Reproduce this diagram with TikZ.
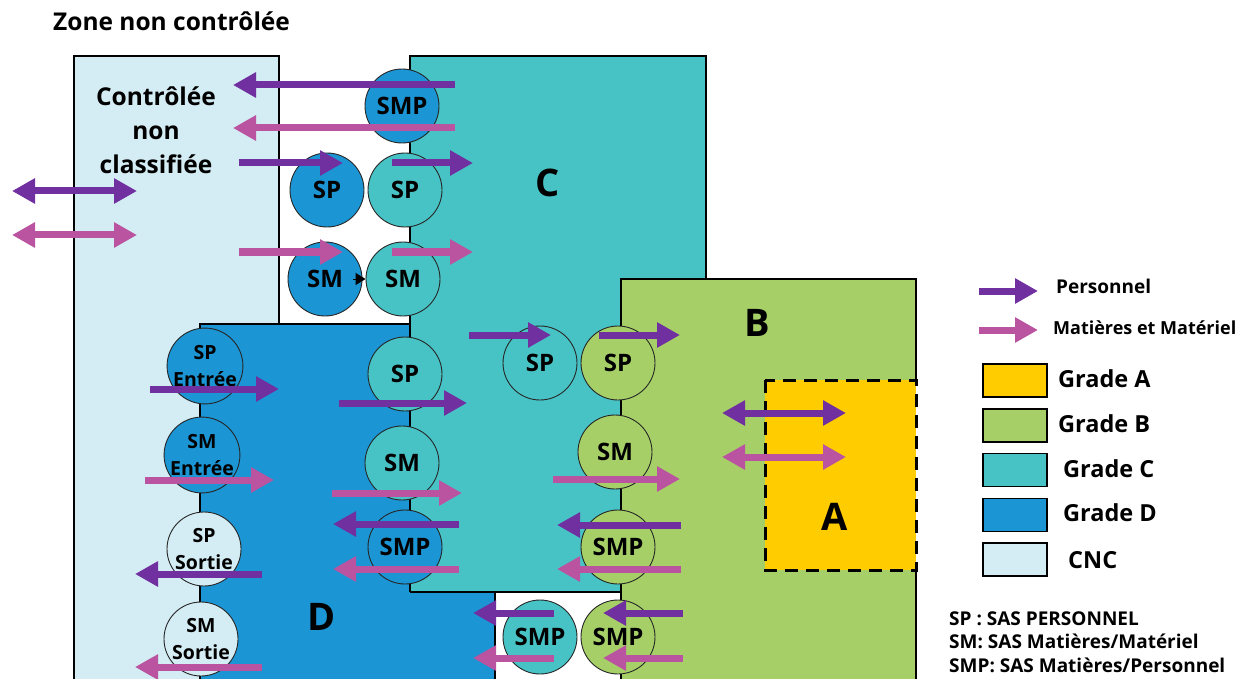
\documentclass[tikz,border=0pt]{standalone}
\usepackage{fontspec}
\setmainfont{Open Sans}
\usetikzlibrary{arrows.meta}
\definecolor{cncC}{HTML}{D4ECF3}
\definecolor{gradeC}{HTML}{48C3C5}
\definecolor{gradeD}{HTML}{1B95D3}
\definecolor{gradeB}{HTML}{A6D067}
\definecolor{gradeA}{HTML}{FFCC00}
\definecolor{purp}{HTML}{7030A0}
\definecolor{pinkk}{HTML}{BA54A0}
\tikzset{
  zone/.style={line width=2.5pt, draw=black},
  sas/.style={circle, draw=black!85, line width=0.9pt, minimum size=74pt, inner sep=0pt,
    font=\bfseries\fontsize{24}{26}\selectfont},
  sastwo/.style={sas, align=center, font=\bfseries\fontsize{19.5}{27}\selectfont},
  pflow/.style={draw=purp, line width=7pt, -{Triangle[length=23pt,width=24pt]}},
  kflow/.style={draw=pinkk, line width=7pt, -{Triangle[length=23pt,width=24pt]}},
  pboth/.style={draw=purp, line width=7pt, {Triangle[length=23pt,width=24pt]}-{Triangle[length=23pt,width=24pt]}},
  kboth/.style={draw=pinkk, line width=7pt, {Triangle[length=23pt,width=24pt]}-{Triangle[length=23pt,width=24pt]}},
  bigletter/.style={font=\bfseries\fontsize{38}{40}\selectfont, inner sep=0pt},
  legbox/.style={draw=black, line width=1.8pt, minimum width=64pt, minimum height=33pt, inner sep=0pt},
  legtxt/.style={anchor=base west, inner sep=0pt, font=\bfseries\fontsize{23.5}{25}\selectfont},
  smalltxt/.style={anchor=base west, inner sep=0pt, font=\bfseries\fontsize{18}{20}\selectfont},
  foottxt/.style={anchor=base west, inner sep=0pt, font=\bfseries\fontsize{19}{20}\selectfont},
}
\newcommand\mkflow[5]{\coordinate (#2-s) at (#3,#5); \coordinate (#2-e) at (#4,#5); \draw[#1] (#2-s) -- (#2-e);}
\begin{document}
\begin{tikzpicture}[x=1pt,y=-1pt]
\useasboundingbox (0,0) rectangle (1245,679);
% zones
\fill[cncC] (74,56) rectangle (279,690);
\draw[zone] (74,690) -- (74,56) -- (279,56) -- (279,324);
\fill[gradeD] (200,324) rectangle (495,690);
\draw[zone] (200,690) -- (200,324) -- (410,324);
\draw[zone] (495,592) -- (495,690);
\fill[gradeC] (410,56) rectangle (706,592);
\draw[zone] (410,592) -- (410,56) -- (706,56) -- (706,279);
\draw[zone] (410,592) -- (621,592);
\fill[gradeB] (621,279) rectangle (916,690);
\draw[zone] (621,690) -- (621,279) -- (916,279) -- (916,380);
\draw[zone] (916,570) -- (916,690);
\fill[gradeA] (765,380) rectangle (916,570);
\draw[zone, line width=3pt, dash pattern=on 13pt off 8pt] (765,380) rectangle (916,570);

% title and zone labels
\node[anchor=base west, inner sep=0pt, font=\bfseries\fontsize{24.5}{26}\selectfont] (title) at (53,31) {Zone non contrôlée};
\node[align=center, inner sep=0pt, font=\bfseries\fontsize{24.5}{34}\selectfont] (cnclbl) at (156,130) {Contrôlée\\non\\classifiée};
\node[bigletter] (lblC) at (548,183) {C};
\node[bigletter] (lblB) at (757,323) {B};
\node[bigletter] (lblA) at (835,517) {A};
\node[bigletter] (lblD) at (322,617) {D};

% airlocks
\node[sas, fill=gradeD] (smpTop) at (402,106) {SMP};
\node[sas, fill=gradeD] (spW) at (327,190) {SP};
\node[sas, fill=gradeC] (spC1) at (405,190) {SP};
\node[sas, fill=gradeD] (smW) at (325,279) {SM};
\node[sas, fill=gradeC] (smC1) at (403,279) {SM};
\node[sastwo, fill=gradeD] (spIn) at (205,366) {SP\\Entrée};
\node[sastwo, fill=gradeD] (smIn) at (202,455) {SM\\Entrée};
\node[sastwo, fill=cncC] (spOut) at (204,549) {SP\\Sortie};
\node[sastwo, fill=cncC] (smOut) at (201,639) {SM\\Sortie};
\node[sas, fill=gradeC] (spC2) at (405,374) {SP};
\node[sas, fill=gradeC] (smC2) at (402,463) {SM};
\node[sas, fill=gradeD] (smpD) at (405,547) {SMP};
\node[sas, fill=gradeC] (spC3) at (540,363) {SP};
\node[sas, fill=gradeB] (spB) at (618,363) {SP};
\node[sas, fill=gradeB] (smB) at (615,452) {SM};
\node[sas, fill=gradeB] (smpB) at (618,547) {SMP};
\node[sas, fill=gradeC] (smpC) at (540,637) {SMP};
\node[sas, fill=gradeB] (smpB2) at (618,637) {SMP};
\draw[line width=1pt, -{Triangle[length=10pt,width=12pt]}] ([xshift=-9pt]smW.east) -- (smC1.west);

% flows
\mkflow{pflow}{f1}{455}{233}{85}
\mkflow{kflow}{f2}{455}{233}{128}
\mkflow{pflow}{f3}{239}{343}{163}
\mkflow{pflow}{f4}{392}{473}{163}
\mkflow{pboth}{f5}{12}{137}{191}
\mkflow{kboth}{f6}{12}{137}{235}
\mkflow{kflow}{f7}{239}{343}{252}
\mkflow{kflow}{f8}{392}{473}{252}
\mkflow{pflow}{f9}{150}{279}{389}
\mkflow{kflow}{f10}{145}{274}{480}
\mkflow{pflow}{f11}{262}{135}{574}
\mkflow{kflow}{f12}{262}{135}{667}
\mkflow{pflow}{f13}{339}{467}{403}
\mkflow{kflow}{f14}{332}{462}{493}
\mkflow{pflow}{f15}{459}{333}{524}
\mkflow{kflow}{f16}{459}{333}{569}
\mkflow{pflow}{f17}{469}{551}{335}
\mkflow{pflow}{f18}{599}{680}{335}
\mkflow{kflow}{f19}{553}{680}{479}
\mkflow{pflow}{f20}{681}{557}{525}
\mkflow{kflow}{f21}{681}{557}{569}
\mkflow{pflow}{f22}{554}{473}{613}
\mkflow{kflow}{f23}{554}{473}{658}
\mkflow{pflow}{f24}{683}{603}{613}
\mkflow{kflow}{f25}{683}{603}{658}
\mkflow{pboth}{f26}{722}{846}{413}
\mkflow{kboth}{f27}{722}{846}{457}

% legend
\mkflow{pflow}{lp}{979}{1038}{291}
\mkflow{kflow}{lk}{979}{1038}{330}
\node[smalltxt, font=\bfseries\fontsize{19}{20}\selectfont] (ltP) at (1056,293) {Personnel};
\node[smalltxt] (ltK) at (1053,334) {Matières et Matériel};
\node[legbox, fill=gradeA] (lgA) at (1015,380.5) {};
\node[legbox, fill=gradeB] (lgB) at (1015,425.5) {};
\node[legbox, fill=gradeC] (lgC) at (1015,470) {};
\node[legbox, fill=gradeD] (lgD) at (1015,515) {};
\node[legbox, fill=cncC] (lgE) at (1015,559.5) {};
\node[legtxt] (ltA) at (1058,387) {Grade A};
\node[legtxt] (ltB) at (1058,432) {Grade B};
\node[legtxt] (ltC) at (1063,477) {Grade C};
\node[legtxt] (ltD) at (1063,521) {Grade D};
\node[legtxt] (ltE) at (1068,568) {CNC};
\node[foottxt] (ft1) at (949,625) {SP : SAS PERSONNEL};
\node[foottxt] (ft2) at (949,648) {SM: SAS Matières/Matériel};
\node[foottxt] (ft3) at (949,672) {SMP: SAS Matières/Personnel};
\end{tikzpicture}
\end{document}
